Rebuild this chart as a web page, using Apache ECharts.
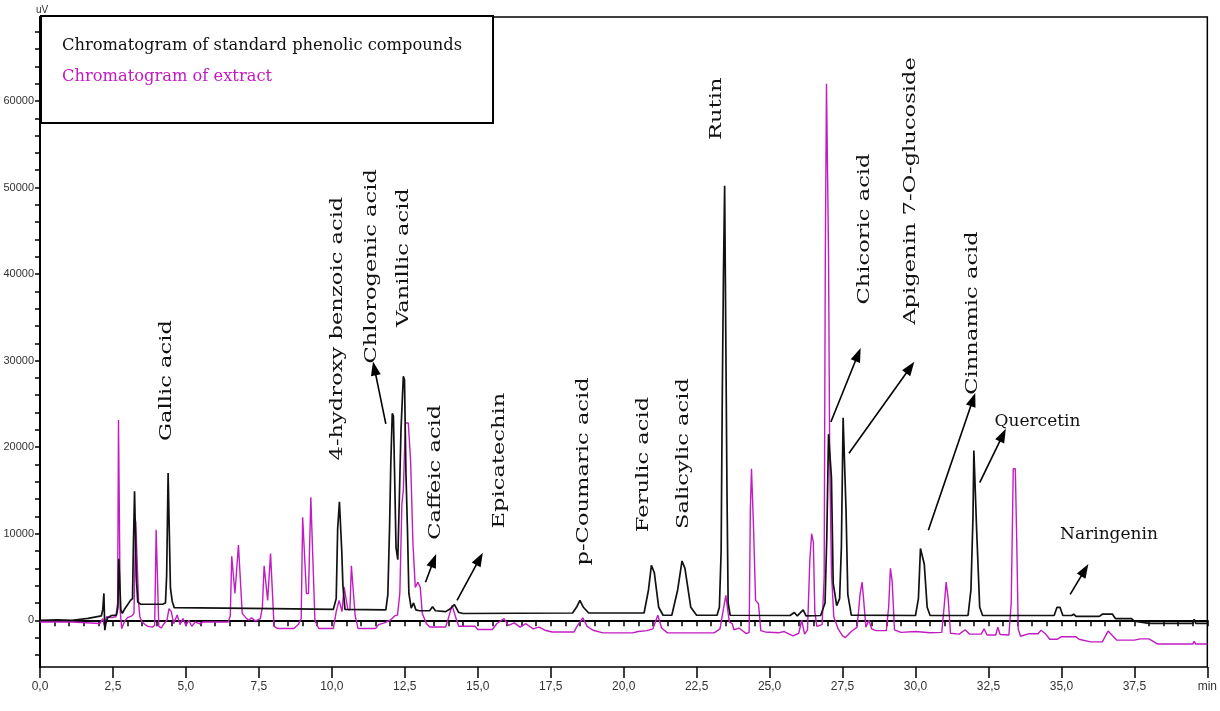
<!DOCTYPE html>
<html>
<head>
<meta charset="utf-8">
<script src="https://cdn.jsdelivr.net/npm/echarts@6/dist/echarts.min.js"></script>
<style>
  html, body { margin: 0; padding: 0; background: #fff; }
  #chart { width: 1220px; height: 711px; }
</style>
</head>
<body>
<div id="chart"></div>
<script>
// ---------------- DATA ----------------
const seriesNames = ['Chromatogram of standard phenolic compounds', 'Chromatogram of extract'];

// retention time (min), detector signal (uV)
const standardTrace = [
  [0, 0], [0.6, 50], [1.1, 0], [1.15, 200], [1.65, 220], [1.7, 450], [2.1, 500], [2.15, 1200],
  [2.19, 3100], [2.22, -1150], [2.26, -300], [2.32, 300], [2.45, 550], [2.62, 600], [2.67, 1500],
  [2.7, 7100], [2.74, 7100], [2.77, 1200], [2.82, 800], [2.9, 1300], [3.0, 1800], [3.1, 2300],
  [3.17, 2500], [3.2, 8650], [3.24, 14900], [3.27, 14900], [3.3, 5000], [3.35, 2100], [3.45, 1850],
  [4.2, 1850], [4.3, 2000], [4.34, 5200], [4.39, 17000], [4.43, 16800], [4.47, 3700], [4.53, 2200],
  [4.6, 1460], [8.0, 1350], [10.05, 1250], [10.15, 2500], [10.2, 10600], [10.26, 13700],
  [10.3, 13600], [10.34, 8000], [10.38, 4000], [10.45, 1250], [11.85, 1200], [11.92, 3000],
  [11.98, 11000], [12.02, 18000], [12.07, 23900], [12.11, 23600], [12.15, 17000], [12.2, 8400],
  [12.26, 7000], [12.32, 15000], [12.37, 22000], [12.45, 28200], [12.49, 27800], [12.54, 17000],
  [12.59, 10700], [12.64, 3100], [12.72, 1400], [12.8, 2000], [12.88, 1200], [13.0, 1100],
  [13.35, 1100], [13.45, 1550], [13.55, 1100], [13.9, 1000], [14.05, 1300], [14.2, 1800],
  [14.35, 900], [14.5, 780], [18.25, 840], [18.4, 1600], [18.5, 2300], [18.62, 1500], [18.8, 840],
  [20.7, 840], [20.85, 3500], [20.95, 6350], [21.05, 5500], [21.2, 1500], [21.35, 580],
  [21.65, 580], [21.85, 3500], [22.0, 6850], [22.1, 6000], [22.3, 1500], [22.5, 580], [23.2, 580],
  [23.28, 1500], [23.34, 8000], [23.38, 26200], [23.42, 40200], [23.46, 50200], [23.5, 50200],
  [23.54, 15000], [23.58, 2000], [23.65, 580], [25.7, 550], [25.85, 900], [25.95, 500],
  [26.15, 1200], [26.25, 500], [26.75, 550], [26.9, 2000], [26.96, 9600], [27.02, 21500],
  [27.08, 21500], [27.12, 16500], [27.18, 4250], [27.3, 1700], [27.4, 2500], [27.46, 8450],
  [27.52, 23400], [27.57, 23400], [27.62, 12700], [27.68, 3000], [27.8, 600], [30.0, 550],
  [30.1, 2500], [30.17, 8300], [30.23, 8300], [30.3, 6500], [30.4, 1500], [30.5, 550], [31.8, 550],
  [31.9, 3500], [31.97, 12000], [32.0, 19600], [32.05, 19600], [32.1, 10000], [32.2, 1500],
  [32.3, 550], [34.75, 550], [34.85, 1500], [34.95, 1500], [35.05, 550], [35.35, 550],
  [35.42, 700], [35.5, 450], [36.3, 450], [36.4, 700], [36.75, 700], [36.85, 200], [37.4, 200],
  [37.5, -100], [38.0, -350], [39.5, -350], [39.55, 100], [39.6, -350], [40, -350]
];

const extractTrace = [
  [0, -200], [1.1, -200], [1.15, -380], [2.05, -380], [2.15, 200], [2.2, -600], [2.28, 400],
  [2.45, 300], [2.6, 400], [2.66, 2000], [2.69, 23150], [2.72, 23150], [2.75, 1000], [2.8, -960],
  [2.9, -100], [3.0, 300], [3.15, 500], [3.22, 800], [3.28, 11500], [3.33, 11600], [3.38, 2000],
  [3.42, 400], [3.5, -200], [3.6, -500], [3.7, -700], [3.85, -800], [3.93, -600], [3.98, 10460],
  [4.02, 10460], [4.07, -700], [4.15, -900], [4.25, -400], [4.35, 0], [4.42, 1350], [4.5, 1000],
  [4.58, -400], [4.7, 600], [4.8, -500], [4.9, 200], [5.0, -600], [5.1, 0], [5.2, -700],
  [5.32, -200], [5.45, -400], [5.6, -200], [6.45, -200], [6.52, 500], [6.57, 7400], [6.62, 7500],
  [6.68, 3100], [6.74, 3000], [6.8, 8700], [6.85, 8700], [6.93, 800], [7.05, 300], [7.15, 0],
  [7.25, 300], [7.38, -100], [7.55, 200], [7.62, 1500], [7.68, 6300], [7.72, 6300], [7.8, 2300],
  [7.86, 2300], [7.9, 7700], [7.94, 7700], [8.02, -700], [8.15, -960], [8.7, -960], [8.85, -500],
  [8.95, 200], [9.0, 11900], [9.05, 11900], [9.13, 3100], [9.2, 3100], [9.28, 14200],
  [9.33, 14200], [9.42, 0], [9.55, -960], [10.05, -960], [10.15, 1000], [10.25, 2300],
  [10.35, 1000], [10.42, 3850], [10.47, 3850], [10.55, 1200], [10.62, 1200], [10.67, 6300],
  [10.72, 6300], [10.8, 500], [10.9, -960], [11.5, -960], [11.6, -500], [11.8, -300], [12.0, 0],
  [12.15, 500], [12.25, 600], [12.33, 3100], [12.4, 13400], [12.45, 15000], [12.52, 22800],
  [12.62, 22800], [12.7, 18400], [12.78, 8800], [12.86, 3800], [12.95, 4400], [13.03, 3800],
  [13.1, 770], [13.24, -380], [13.35, -770], [13.9, -770], [14.0, 300], [14.12, 1700],
  [14.25, 300], [14.35, -700], [14.9, -700], [15.0, -1070], [15.5, -1070], [15.65, -400],
  [15.9, 200], [16.05, -600], [16.25, -300], [16.45, -800], [16.65, -400], [16.9, -1000],
  [17.1, -800], [17.3, -1150], [17.55, -1350], [18.3, -1350], [18.4, -700], [18.6, 270],
  [18.75, -700], [18.95, -1150], [19.3, -1460], [20.3, -1460], [20.5, -1300], [20.8, -1200],
  [21.0, -1000], [21.17, 580], [21.3, -900], [21.5, -1460], [23.1, -1460], [23.3, -1000],
  [23.5, 2880], [23.62, -200], [23.72, -400], [23.78, -1100], [23.95, -900], [24.2, -1540],
  [24.3, -1400], [24.34, 12700], [24.38, 17500], [24.42, 17500], [24.45, 10760], [24.52, 2300],
  [24.62, 1900], [24.7, -1200], [24.85, -1350], [25.3, -1450], [25.5, -1300], [25.8, -1800],
  [26.0, -1500], [26.1, 0], [26.2, -1600], [26.3, -1100], [26.38, 7000], [26.44, 10000],
  [26.5, 9000], [26.55, 1000], [26.62, -700], [26.8, -500], [26.87, 5000], [26.91, 42300],
  [26.95, 62000], [26.98, 62000], [27.02, 42300], [27.06, 18800], [27.12, 5500], [27.2, 400],
  [27.35, -1000], [27.5, -1800], [27.6, -2000], [27.8, -1300], [28.0, -800], [28.1, 3000],
  [28.17, 4400], [28.22, 2500], [28.3, -800], [28.4, 0], [28.5, -1000], [28.65, -1200],
  [29.0, -1200], [29.08, 1500], [29.14, 6000], [29.2, 4500], [29.28, -1100], [29.5, -1400],
  [30.0, -1300], [30.5, -1450], [30.9, -1400], [30.98, 1500], [31.05, 4400], [31.12, 2500],
  [31.2, -1500], [31.5, -1600], [31.7, -1100], [31.85, -1600], [32.25, -1600], [32.35, -1000],
  [32.45, -1700], [32.75, -1700], [32.82, -800], [32.9, -1650], [33.2, -1700], [33.28, 2000],
  [33.35, 17500], [33.42, 17500], [33.47, 9000], [33.52, -1000], [33.6, -1850], [33.9, -1550],
  [34.2, -1550], [34.3, -1150], [34.45, -1550], [34.6, -2200], [34.85, -2200], [35.0, -1900],
  [35.5, -1900], [35.6, -2200], [36.0, -2500], [36.4, -2500], [36.6, -1250], [36.9, -2300],
  [37.5, -2300], [37.7, -2150], [38.0, -2150], [38.3, -2750], [39.5, -2750], [39.55, -2450],
  [39.6, -2750], [40, -2750]
];

const timeTickValues = [0, 2.5, 5, 7.5, 10, 12.5, 15, 17.5, 20, 22.5, 25, 27.5, 30, 32.5, 35, 37.5, 40];
const timeTickLabels = ['0,0', '2,5', '5,0', '7,5', '10,0', '12,5', '15,0', '17,5', '20,0', '22,5',
  '25,0', '27,5', '30,0', '32,5', '35,0', '37,5', 'min'];
const intensityTickValues = [0, 10000, 20000, 30000, 40000, 50000, 60000];

const compoundNames = ['Gallic acid', '4-hydroxy benzoic acid', 'Chlorogenic acid', 'Vanillic acid',
  'Caffeic acid', 'Epicatechin', 'p-Coumaric acid', 'Ferulic acid', 'Salicylic acid', 'Rutin',
  'Chicoric acid', 'Apigenin 7-O-glucoside', 'Cinnamic acid', 'Quercetin', 'Naringenin'];

// ---------------- LAYOUT (annotation placement in data space) ----------------
const labelPlacement = [
  [4.35, 27700, 90], [10.2, 33700, 90], [11.36, 40900, 90], [12.45, 41900, 90],
  [13.54, 17100, 90], [15.75, 18450, 90], [18.64, 17200, 90], [20.68, 18000, 90],
  [22.04, 19260, 90], [23.2, 59100, 90], [28.27, 45200, 90], [29.83, 49600, 90],
  [31.97, 35500, 90], [34.18, 22900, 0], [36.63, 9900, 0]
];
const arrowPlacement = [
  [11.85, 22700, 11.46, 29100], [13.21, 4400, 13.49, 6900], [14.29, 2300, 15.06, 7100],
  [27.1, 22900, 28.03, 30700], [27.72, 19300, 29.82, 29200], [30.44, 10400, 31.97, 25500],
  [32.2, 15900, 32.99, 21400], [35.3, 3000, 35.8, 5800]
];

const minorTimeTicks = [];
for (let i = 0; i <= 80; i++) minorTimeTicks.push(i * 0.5);
const minorIntensityTicks = [];
for (let v = -4000; v <= 68000; v += 2000) minorIntensityTicks.push(v);

const BLACK = '#111111';
const MAGENTA = '#c21bc2';
const SERIF = '"DejaVu Serif", "Liberation Serif", serif';
const NARROW = '"Liberation Sans Narrow", "Liberation Sans", sans-serif';

const chart = echarts.init(document.getElementById('chart'), null, { renderer: 'canvas' });

const markLines = arrowPlacement.map(a => [{ coord: [a[0], a[1]] }, { coord: [a[2], a[3]] }]);

chart.setOption({
  animation: false,
  backgroundColor: '#ffffff',
  grid: {
    left: 40, right: 4, top: 17, bottom: 44,
    show: true, borderColor: '#000', borderWidth: 1.5, backgroundColor: 'transparent'
  },
  legend: {
    orient: 'vertical',
    left: 41, top: 16,
    itemWidth: 0, itemHeight: 0, icon: 'rect',
    itemGap: 15,
    padding: [22, 31, 38, 16],
    backgroundColor: '#ffffff',
    borderColor: '#000', borderWidth: 2,
    selectedMode: false,
    textStyle: { fontFamily: SERIF, fontSize: 16.3 },
    data: [
      { name: seriesNames[0], textStyle: { color: '#111' } },
      { name: seriesNames[1], textStyle: { color: MAGENTA } }
    ]
  },
  xAxis: [{
    type: 'value', min: 0, max: 40,
    axisLine: { show: true, lineStyle: { color: '#000', width: 2 } },
    axisTick: { show: true, customValues: minorTimeTicks, length: 6, lineStyle: { color: '#000', width: 1.5 } },
    axisLabel: {
      customValues: timeTickValues,
      formatter: v => timeTickLabels[timeTickValues.indexOf(v)] || '',
      fontFamily: NARROW, fontSize: 12, color: '#333', margin: 14
    },
    splitLine: { show: false }
  }, {
    type: 'value', min: 0, max: 40, gridIndex: 0, position: 'bottom',
    axisLine: { show: false },
    axisTick: { show: true, customValues: timeTickValues, length: 11, lineStyle: { color: '#000', width: 1.5 } },
    axisLabel: { show: false },
    splitLine: { show: false }
  }],
  yAxis: {
    type: 'value', min: -5400, max: 69700,
    name: 'uV', nameLocation: 'end', nameGap: 2,
    nameTextStyle: { fontFamily: NARROW, fontSize: 10, color: '#333', align: 'left', padding: [0, 0, 0, -4] },
    axisLine: { show: true, lineStyle: { color: '#000', width: 2 } },
    axisTick: { show: true, customValues: minorIntensityTicks, length: 5, lineStyle: { color: '#000', width: 1.5 } },
    axisLabel: {
      customValues: intensityTickValues,
      formatter: v => String(v),
      fontFamily: NARROW, fontSize: 11, color: '#333', margin: 6
    },
    splitLine: { show: false }
  },
  series: [{
    name: seriesNames[0],
    type: 'line', xAxisIndex: 0, z: 3,
    data: standardTrace, showSymbol: false, symbol: 'none',
    lineStyle: { color: BLACK, width: 1.7 }, itemStyle: { color: BLACK },
    markLine: {
      silent: true, symbol: ['none', 'triangle'], symbolSize: [10, 14],
      lineStyle: { color: '#000', width: 1.6, type: 'solid' },
      label: { show: false },
      data: markLines
    }
  }, {
    name: seriesNames[1],
    type: 'line', xAxisIndex: 0, z: 2,
    data: extractTrace, showSymbol: false, symbol: 'none',
    lineStyle: { color: MAGENTA, width: 1.4 }, itemStyle: { color: MAGENTA }
  }]
});

// compound annotations, positioned in data space via the chart's own scales
const annotationTexts = compoundNames.map((name, i) => {
  const p = labelPlacement[i];
  const px = chart.convertToPixel({ gridIndex: 0 }, [p[0], p[1]]);
  const vertical = p[2] === 90;
  return {
    type: 'text',
    x: px[0], y: px[1],
    rotation: vertical ? Math.PI / 2 : 0,
    scaleX: vertical ? 1.33 : 1,
    silent: true,
    z: 10,
    style: {
      text: name,
      font: '17px ' + SERIF,
      fill: '#111',
      align: 'center',
      verticalAlign: 'middle'
    }
  };
});
chart.setOption({ graphic: annotationTexts });
</script>
</body>
</html>
